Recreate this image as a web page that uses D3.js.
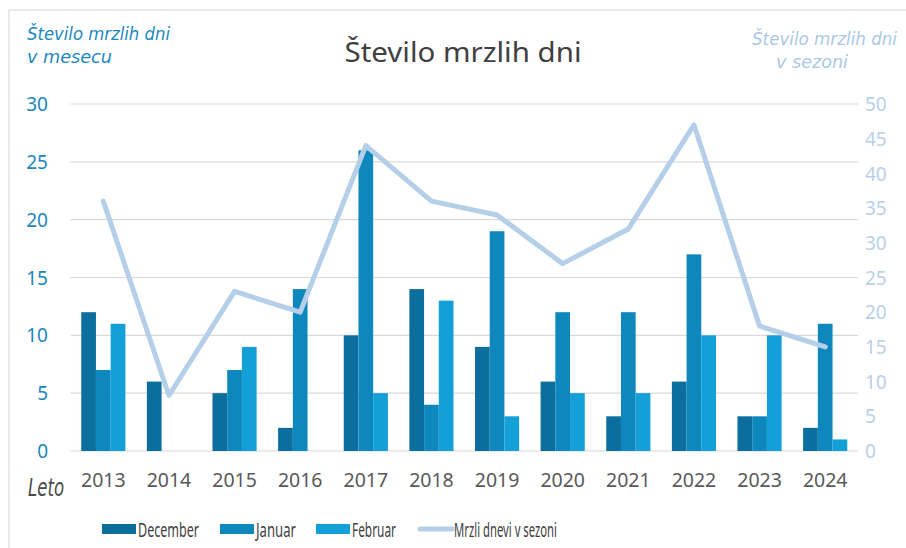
<!DOCTYPE html>
<html>
<head>
<meta charset="utf-8">
<script src="https://cdn.jsdelivr.net/npm/d3@7"></script>
<style>
  html, body { margin: 0; padding: 0; background: #fff; }
  svg { display: block; }
</style>
</head>
<body>
<svg id="chart" width="906" height="548"></svg>
<script>
const years = ["2013","2014","2015","2016","2017","2018","2019","2020","2021","2022","2023","2024"];
const december = [12, 6, 5, 2, 10, 14, 9, 6, 3, 6, 3, 2];
const januar   = [7, 0, 7, 14, 26, 4, 19, 12, 12, 17, 3, 11];
const februar  = [11, 0, 9, 0, 5, 13, 3, 5, 5, 10, 10, 1];
const sezona   = [36, 8, 23, 20, 44, 36, 34, 27, 32, 47, 18, 15];
const leftTicks = [0, 5, 10, 15, 20, 25, 30];
const rightTicks = [0, 5, 10, 15, 20, 25, 30, 35, 40, 45, 50];
const seriesNames = ["December", "Januar", "Februar"];
const lineName = "Mrzli dnevi v sezoni";

const colors = { December: "#0b6e9c", Januar: "#0e88bc", Februar: "#13a0d8" };
const lineColor = "#b5cfe8";

const svg = d3.select("#chart");
const W = 906, H = 548;
const plot = { left: 70.5, right: 858, top: 104, bottom: 451 };
const font = "'Noto Sans', Arial, sans-serif";

// chart border
svg.append("line").attr("x1", 9).attr("x2", 9).attr("y1", 10).attr("y2", H).attr("stroke", "#e2e2e2").attr("stroke-width", 1.5);
svg.append("line").attr("x1", 9).attr("x2", W).attr("y1", 10).attr("y2", 10).attr("stroke", "#e2e2e2").attr("stroke-width", 1.5);

const x = d3.scaleBand().domain(years).range([plot.left, plot.right]).paddingInner(0).paddingOuter(0);
const xs = d3.scaleBand().domain(seriesNames).range([0, x.bandwidth()]).paddingInner(0).paddingOuter(0.73);
const yL = d3.scaleLinear().domain([0, 30]).range([plot.bottom, plot.top]);
const yR = d3.scaleLinear().domain([0, 50]).range([plot.bottom, plot.top]);

// gridlines
svg.append("g").selectAll("line").data(leftTicks).join("line")
  .attr("x1", plot.left).attr("x2", plot.right)
  .attr("y1", d => yL(d)).attr("y2", d => yL(d))
  .attr("stroke", "#d9d9d9").attr("stroke-width", 1.2);

// left axis
const axL = d3.axisLeft(yL).tickValues(leftTicks).tickSize(0).tickPadding(0);
const gL = svg.append("g").attr("transform", `translate(48,0)`).call(axL);
gL.select(".domain").remove();
gL.selectAll("text").attr("fill", "#1b87bd").attr("font-family", font).attr("font-size", 19).attr("text-anchor", "end").attr("dy", "0.35em");

// right axis
const axR = d3.axisRight(yR).tickValues(rightTicks).tickSize(0).tickPadding(0);
const gR = svg.append("g").attr("transform", `translate(${plot.right + 7},0)`).call(axR);
gR.select(".domain").remove();
gR.selectAll("text").attr("fill", "#b9d0e8").attr("font-family", font).attr("font-size", 19).attr("dy", "0.35em");

// x axis
const axX = d3.axisBottom(x).tickSize(0).tickPadding(0);
const gX = svg.append("g").attr("transform", `translate(0,${plot.bottom + 29})`).call(axX);
gX.select(".domain").remove();
gX.selectAll("text").attr("fill", "#595959").attr("font-family", font).attr("font-size", 19.5).attr("dy", "0.35em");

// bars
const seriesData = { December: december, Januar: januar, Februar: februar };
const rows = [];
years.forEach((yr, i) => seriesNames.forEach(s => rows.push({ yr, s, v: seriesData[s][i] })));
svg.append("g").selectAll("rect").data(rows.filter(d => d.v > 0)).join("rect")
  .attr("x", d => x(d.yr) + xs(d.s))
  .attr("width", xs.bandwidth())
  .attr("y", d => yL(d.v))
  .attr("height", d => yL(0) - yL(d.v))
  .attr("fill", d => colors[d.s]);

// line
const line = d3.line().x((d, i) => x(years[i]) + x.bandwidth() / 2).y(d => yR(d));
svg.append("path").datum(sezona).attr("d", line)
  .attr("fill", "none").attr("stroke", lineColor).attr("stroke-width", 5)
  .attr("stroke-linejoin", "round").attr("stroke-linecap", "round");

// title
svg.append("text").attr("x", 463).attr("y", 62).attr("text-anchor", "middle")
  .attr("font-family", font).attr("font-size", 27).attr("fill", "#404040")
  .attr("textLength", 237).attr("lengthAdjust", "spacingAndGlyphs")
  .text("Število mrzlih dni");

// handwritten-like annotations
const hand = "'DejaVu Sans Condensed', 'Noto Sans', sans-serif";
function note(txt, xx, yy, len, size, color) {
  svg.append("text").attr("x", xx).attr("y", yy).attr("font-family", hand).attr("font-style", "italic")
    .attr("font-size", size).attr("fill", color)
    .attr("textLength", len).attr("lengthAdjust", "spacingAndGlyphs").text(txt);
}
note("Število mrzlih dni", 27, 40, 143, 18, "#1b87c2");
note("v  mesecu", 27, 63, 85, 18, "#1b87c2");
note("Število mrzlih dni", 752, 45, 145, 18, "#a9c8e6");
note("v  sezoni", 776, 68, 72, 18, "#a9c8e6");
note("Leto", 28, 496, 36, 24, "#4a4a4a");

// legend
const legendItems = [
  { name: seriesNames[0], x: 102, type: "bar", len: 61 },
  { name: seriesNames[1], x: 220, type: "bar", len: 40 },
  { name: seriesNames[2], x: 316, type: "bar", len: 44 },
  { name: lineName, x: 418, type: "line", len: 103 }
];
const lg = svg.append("g").selectAll("g").data(legendItems).join("g").attr("transform", d => `translate(${d.x},529)`);
lg.filter(d => d.type === "bar").append("rect").attr("x", 0).attr("y", -5).attr("width", 34).attr("height", 10).attr("fill", d => colors[d.name]);
lg.filter(d => d.type === "line").append("line").attr("x1", 2).attr("x2", 34).attr("y1", 0).attr("y2", 0)
  .attr("stroke", lineColor).attr("stroke-width", 5).attr("stroke-linecap", "round");
lg.append("text").attr("x", 36).attr("y", 1).attr("dy", "0.35em")
  .attr("font-family", font).attr("font-size", 20).attr("fill", "#404040")
  .attr("textLength", d => d.len).attr("lengthAdjust", "spacingAndGlyphs").text(d => d.name);
</script>
</body>
</html>
